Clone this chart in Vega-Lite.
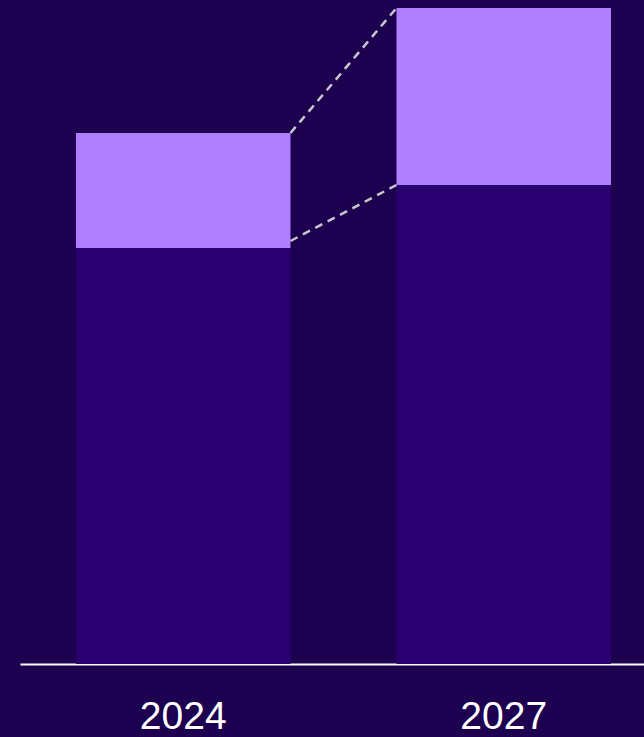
{
  "$schema": "https://vega.github.io/schema/vega-lite/v6.json",
  "width": 624,
  "height": 664,
  "autosize": {"type": "none"},
  "padding": {"left": 20, "top": 0, "right": 0, "bottom": 73},
  "background": "#1e0050",
  "config": {"view": {"stroke": null}},
  "layer": [
    {
      "data": {"values": [
        {"year": "2024", "part": "base", "start": 0, "end": 41.6},
        {"year": "2024", "part": "growth", "start": 41.6, "end": 53.1},
        {"year": "2027", "part": "base", "start": 0, "end": 47.9},
        {"year": "2027", "part": "growth", "start": 47.9, "end": 65.6}
      ]},
      "mark": {"type": "bar"},
      "encoding": {
        "x": {
          "field": "year", "type": "nominal",
          "scale": {"paddingInner": 0.3307, "paddingOuter": 0.1388, "align": 0.629},
          "axis": {
            "title": null, "labelAngle": 0, "ticks": false, "tickSize": 0,
            "domainColor": "#ffffff", "domainWidth": 2,
            "labelColor": "#ffffff", "labelFont": "Liberation Sans", "labelFontSize": 39,
            "labelBaseline": "alphabetic", "labelPadding": 64
          }
        },
        "y": {"field": "start", "type": "quantitative", "scale": {"domain": [0, 66.4], "nice": false, "zero": true}, "axis": null},
        "y2": {"field": "end"},
        "color": {
          "field": "part", "type": "nominal",
          "scale": {"domain": ["base", "growth"], "range": ["#280070", "#b07fff"]},
          "legend": null
        }
      }
    },
    {
      "data": {"values": [
        {"from": "2024", "to": "2027", "y1": 53.1, "y2": 65.6},
        {"from": "2024", "to": "2027", "y1": 42.3, "y2": 47.9}
      ]},
      "mark": {"type": "rule", "color": "#c8c8cc", "strokeWidth": 2.5, "strokeDash": [8, 6]},
      "encoding": {
        "x": {"field": "from", "type": "nominal", "bandPosition": 1},
        "x2": {"field": "to", "bandPosition": 0},
        "y": {"field": "y1", "type": "quantitative"},
        "y2": {"field": "y2"}
      }
    }
  ]
}
